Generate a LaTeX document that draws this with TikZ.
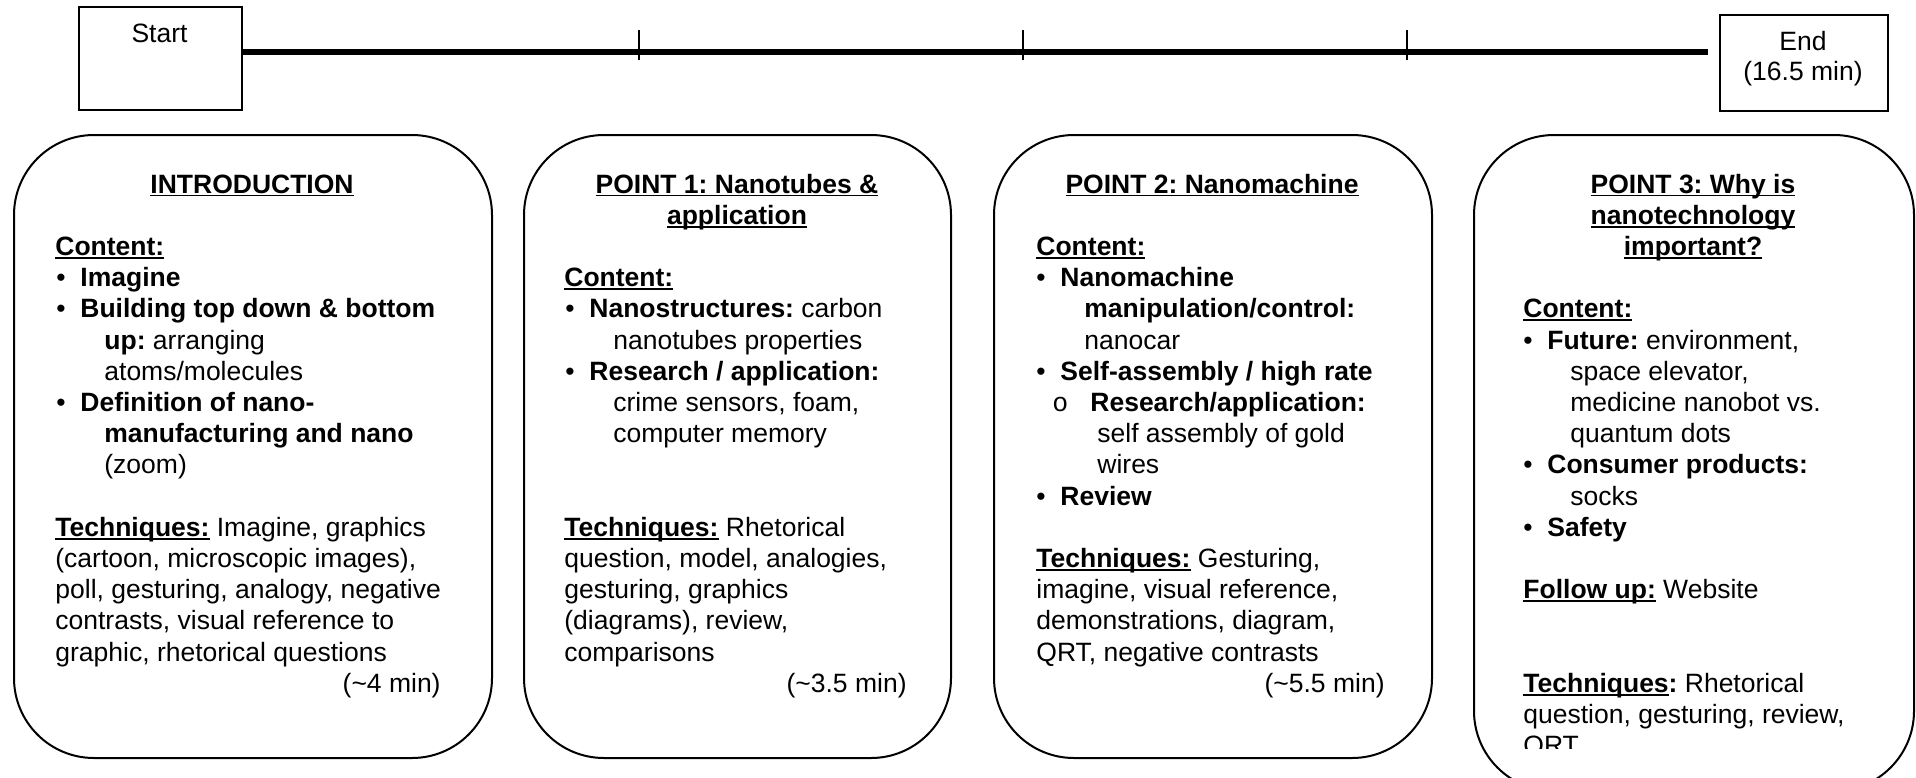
\documentclass[tikz,border=0pt]{standalone}
\usepackage{fontspec}
\setmainfont{Liberation Sans}
\setmonofont{Liberation Mono}
\frenchspacing
\newcommand\uln[1]{\setbox0\hbox{#1}\rlap{\rule[-1.7pt]{\wd0}{0.9pt}}\box0\relax}
\newcommand\bl{\makebox[12pt][l]{•}}
\tikzset{
  txt/.style={anchor=base west, inner sep=0pt, font=\fontsize{13.25}{15.6}\selectfont},
  txtr/.style={txt, anchor=base east},
  txtc/.style={txt, anchor=base},
  pbox/.style={draw, line width=1pt, rounded corners=40pt, anchor=north west, inner sep=0pt},
  tbox/.style={draw, line width=1pt, anchor=north west, inner sep=0pt},
  tick/.style={line width=0.6pt},
  tline/.style={line width=2.6pt},
}
\begin{document}
\begin{tikzpicture}[x=0.5pt,y=-0.5pt]
\clip (0,0) rectangle (1916,777);
\fill[white] (0,0) rectangle (1916,777);

% timeline
\node[tbox, minimum width=81.5pt, minimum height=51.5pt] (start) at (78,6) {};
\node[txtc] (starttxt) at (159.5,42) {Start};
\node[tbox, minimum width=84pt, minimum height=48pt] (end) at (1719,14) {};
\node[txtc] (endtxt) at (1803,50) {End};
\node[txtc] (endtxt2) at (1803,80) {(16.5 min)};
\coordinate (tlend) at (1708,52);
\draw[tline] (start.east |- tlend) -- (tlend);
\draw[tick] (639,30) -- (639,60);
\draw[tick] (1023,30) -- (1023,60);
\draw[tick] (1407,30) -- (1407,60);

% box 1
\node[pbox, minimum width=239pt, minimum height=311.5pt] (box1) at (13,134) {};
\node[txtc] (t1) at (252,193) {\uln{\textbf{INTRODUCTION}}};
\node[txt] (b1l2) at (55,255.4) {\uln{\textbf{Content:}}};
\node[txt] (b1l3) at (56,286.6) {\bl\textbf{Imagine}};
\node[txt] (b1l4) at (56,317.8) {\bl\textbf{Building top down \& bottom}};
\node[txt] (b1l5) at (104,349) {\textbf{up:} arranging};
\node[txt] (b1l6) at (104,380.2) {atoms/molecules};
\node[txt] (b1l7) at (56,411.4) {\bl\textbf{Definition of nano-}};
\node[txt] (b1l8) at (104,442.6) {\textbf{manufacturing and nano}};
\node[txt] (b1l9) at (104,473.8) {(zoom)};
\node[txt] (b1l11) at (55,536.2) {\uln{\textbf{Techniques:}} Imagine, graphics};
\node[txt] (b1l12) at (55,567.4) {(cartoon, microscopic images),};
\node[txt] (b1l13) at (55,598.6) {poll, gesturing, analogy, negative};
\node[txt] (b1l14) at (55,629.8) {contrasts, visual reference to};
\node[txt] (b1l15) at (55,661) {graphic, rhetorical questions};
\node[txtr] (b1l16) at (441,692.2) {(\textasciitilde4 min)};

% box 2
\node[pbox, minimum width=213.5pt, minimum height=311.5pt] (box2) at (523,134) {};
\node[txtc] (t2a) at (737,193) {\uln{\textbf{POINT 1: Nanotubes \&}}};
\node[txtc] (t2b) at (737,224.2) {\uln{\textbf{application}}};
\node[txt] (b2l3) at (564,286.6) {\uln{\textbf{Content:}}};
\node[txt] (b2l4) at (565,317.8) {\bl\textbf{Nanostructures:} carbon};
\node[txt] (b2l5) at (613,349) {nanotubes properties};
\node[txt] (b2l6) at (565,380.2) {\bl\textbf{Research / application:}};
\node[txt] (b2l7) at (613,411.4) {crime sensors, foam,};
\node[txt] (b2l8) at (613,442.6) {computer memory};
\node[txt] (b2l11) at (564,536.2) {\uln{\textbf{Techniques:}} Rhetorical};
\node[txt] (b2l12) at (564,567.4) {question, model, analogies,};
\node[txt] (b2l13) at (564,598.6) {gesturing, graphics};
\node[txt] (b2l14) at (564,629.8) {(diagrams), review,};
\node[txt] (b2l15) at (564,661) {comparisons};
\node[txtr] (b2l16) at (907,692.2) {(\textasciitilde3.5 min)};

% box 3
\node[pbox, minimum width=219pt, minimum height=311.5pt] (box3) at (993,134) {};
\node[txtc] (t3) at (1212,193) {\uln{\textbf{POINT 2: Nanomachine}}};
\node[txt] (b3l2) at (1036,255.4) {\uln{\textbf{Content:}}};
\node[txt] (b3l3) at (1036,286.6) {\bl\textbf{Nanomachine}};
\node[txt] (b3l4) at (1084,317.8) {\textbf{manipulation/control:}};
\node[txt] (b3l5) at (1084,349) {nanocar};
\node[txt] (b3l6) at (1036,380.2) {\bl\textbf{Self-assembly / high rate}};
\node[txt] (b3l7o) at (1052,411.4) {\texttt{o}};
\node[txt] (b3l7) at (1090,411.4) {\textbf{Research/application:}};
\node[txt] (b3l8) at (1097,442.6) {self assembly of gold};
\node[txt] (b3l9) at (1097,473.8) {wires};
\node[txt] (b3l10) at (1036,505) {\bl\textbf{Review}};
\node[txt] (b3l12) at (1036,567.4) {\uln{\textbf{Techniques:}} Gesturing,};
\node[txt] (b3l13) at (1036,598.6) {imagine, visual reference,};
\node[txt] (b3l14) at (1036,629.8) {demonstrations, diagram,};
\node[txt] (b3l15) at (1036,661) {QRT, negative contrasts};
\node[txtr] (b3l16) at (1385,692.2) {(\textasciitilde5.5 min)};

% box 4
\node[pbox, minimum width=220pt, minimum height=328pt] (box4) at (1473,134) {};
\node[txtc] (t4a) at (1693,193) {\uln{\textbf{POINT 3: Why is}}};
\node[txtc] (t4b) at (1693,224.2) {\uln{\textbf{nanotechnology}}};
\node[txtc] (t4c) at (1693,255.4) {\uln{\textbf{important?}}};
\node[txt] (b4l4) at (1523,317.8) {\uln{\textbf{Content:}}};
\node[txt] (b4l5) at (1523,349) {\bl\textbf{Future:} environment,};
\node[txt] (b4l6) at (1570,380.2) {space elevator,};
\node[txt] (b4l7) at (1570,411.4) {medicine nanobot vs.};
\node[txt] (b4l8) at (1570,442.6) {quantum dots};
\node[txt] (b4l9) at (1523,473.8) {\bl\textbf{Consumer products:}};
\node[txt] (b4l10) at (1570,505) {socks};
\node[txt] (b4l11) at (1523,536.2) {\bl\textbf{Safety}};
\node[txt] (b4l13) at (1523,598.6) {\uln{\textbf{Follow up:}} Website};
\node[txt] (b4l16) at (1523,692.2) {\uln{\textbf{Techniques}}\textbf{:} Rhetorical};
\node[txt] (b4l17) at (1523,723.4) {question, gesturing, review,};
\begin{scope}
\clip (1480,700) rectangle (1900,748);
\node[txt] (b4l18) at (1523,754.6) {QRT};
\end{scope}
\end{tikzpicture}
\end{document}
